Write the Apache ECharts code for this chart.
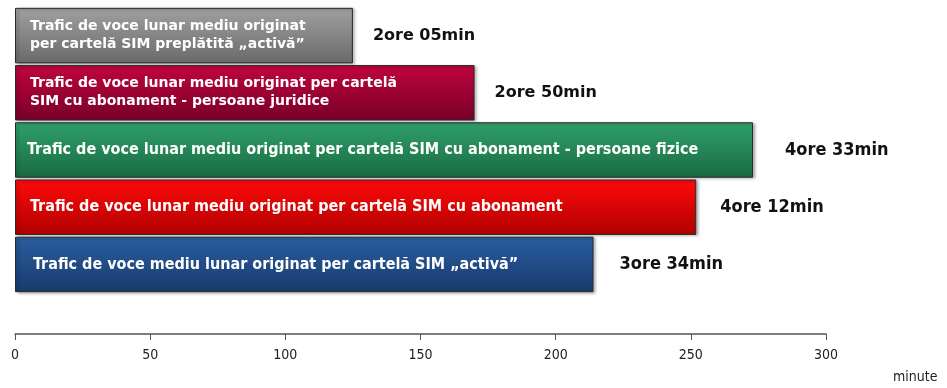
<!DOCTYPE html>
<html><head><meta charset="utf-8">
<script src="https://cdn.jsdelivr.net/npm/echarts@6/dist/echarts.min.js"></script>
<style>html,body{margin:0;padding:0;background:#fff}#c{width:947px;height:388px}</style>
</head><body><div id="c"></div>
<script>
var categories = [
  'Trafic de voce lunar mediu originat\nper cartelă SIM preplătită „activă”',
  'Trafic de voce lunar mediu originat per cartelă\nSIM cu abonament - persoane juridice',
  'Trafic de voce lunar mediu originat per cartelă SIM cu abonament - persoane fizice',
  'Trafic de voce lunar mediu originat per cartelă SIM cu abonament',
  'Trafic de voce mediu lunar originat per cartelă SIM „activă”'
];
var minutes = [125, 170, 273, 252, 214];
var valueLabels = ['2ore 05min', '2ore 50min', '4ore 33min', '4ore 12min', '3ore 34min'];
var xTicks = [0, 50, 100, 150, 200, 250, 300];
var colorsTop = ['#a0a0a0', '#c0043f', '#2fa06a', '#ff0a0a', '#2a5da0'];
var colorsBot = ['#6a6a6a', '#780028', '#1a6a42', '#b00000', '#193a6c'];
var condensed = [false, false, true, true, true];
var textPad = [10, 10, 7, 10, 13];
var valDist = [20, 20, 32, 24, 26];

var COND = '"DejaVu Sans Condensed","Liberation Sans Narrow",sans-serif';
var WIDE = '"DejaVu Sans",Verdana,sans-serif';
function grad(i){
  return new echarts.graphic.LinearGradient(0,0,0,1,[{offset:0,color:colorsTop[i]},{offset:1,color:colorsBot[i]}]);
}
var barData = minutes.map(function(v,i){
  return {
    value: v,
    itemStyle: {color: grad(i)},
    label: condensed[i] ? {fontFamily: COND, fontSize: 16, padding: [0,0,0,textPad[i]]}
                        : {fontFamily: WIDE, fontSize: 14, lineHeight: 18, padding: [0,0,0,textPad[i]]}
  };
});
var valData = minutes.map(function(v,i){
  return {
    value: v,
    label: condensed[i] ? {fontFamily: COND, fontSize: 18, distance: valDist[i]} : {fontFamily: WIDE, fontSize: 16, distance: valDist[i]}
  };
});
var chart = echarts.init(document.getElementById('c'));
chart.setOption({
  animation: false,
  grid: {left: 15, width: 811, top: 7, height: 286},
  xAxis: {
    type: 'value', min: 0, max: 300, interval: 50, offset: 41,
    axisLine: {show: true, lineStyle: {color: '#555', width: 1.5}},
    axisTick: {show: true, inside: false, length: 6, lineStyle: {color: '#555'}},
    axisLabel: {color: '#222', fontSize: 14, margin: 14, fontFamily: COND,
      formatter: function(v){ return xTicks.indexOf(v) >= 0 ? String(v) : ''; }},
    splitLine: {show: false},
    name: 'minute', nameLocation: 'end', nameGap: 67,
    nameTextStyle: {color: '#222', fontSize: 14, fontFamily: COND, verticalAlign: 'top', padding: [36, 0, 0, 0], align: 'left'}
  },
  yAxis: {
    type: 'category', data: categories, inverse: true,
    axisLine: {show: false}, axisTick: {show: false}, axisLabel: {show: false}
  },
  series: [
    {
      type: 'bar', data: barData, barCategoryGap: '3%', barGap: '-100%',
      itemStyle: {borderColor: '#2a2a2a', borderWidth: 1, shadowColor: 'rgba(0,0,0,0.35)', shadowBlur: 3, shadowOffsetX: 2, shadowOffsetY: 1},
      label: {show: true, position: 'insideLeft', color: '#fff', fontWeight: 'bold',
        formatter: function(p){ return categories[p.dataIndex]; }}
    },
    {
      type: 'bar', data: valData, barCategoryGap: '3%', barGap: '-100%',
      itemStyle: {color: 'rgba(0,0,0,0)'}, silent: true,
      label: {show: true, position: 'right', color: '#111', fontWeight: 'bold',
        formatter: function(p){ return valueLabels[p.dataIndex]; }}
    }
  ]
});
</script></body></html>
